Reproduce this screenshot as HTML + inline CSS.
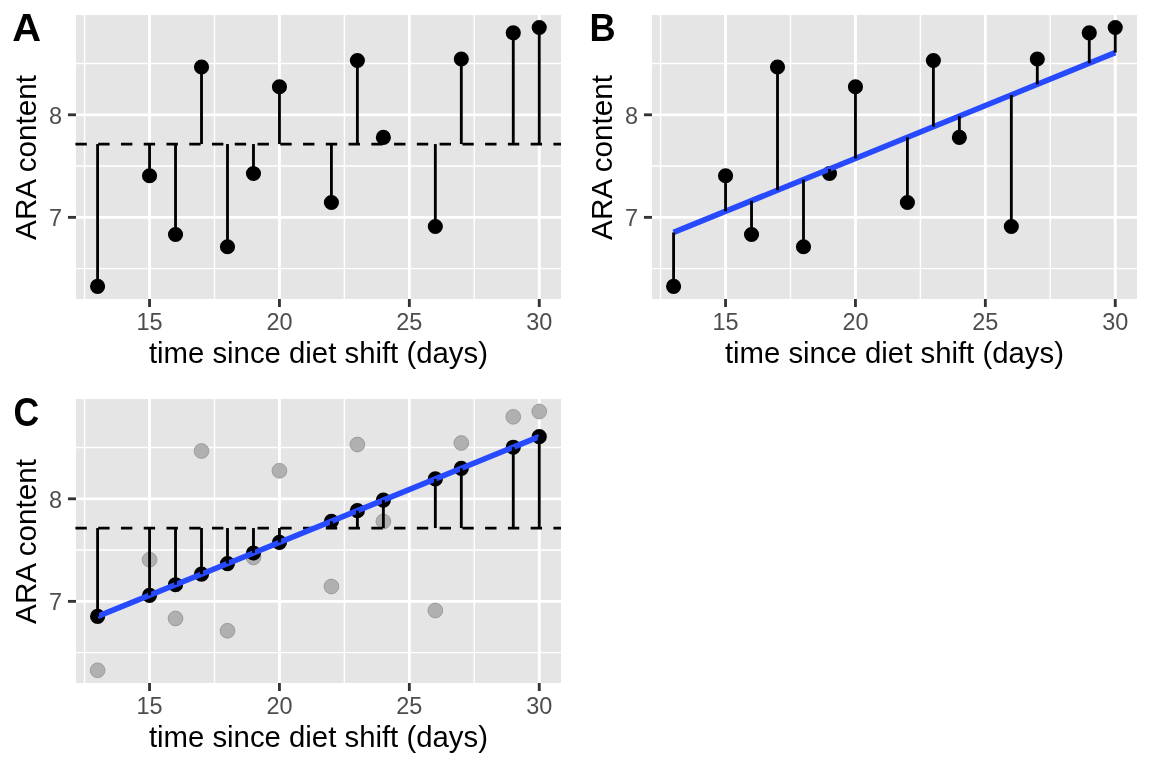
<!DOCTYPE html>
<html><head><meta charset="utf-8"><title>ARA content vs time since diet shift</title>
<style>
html,body{margin:0;padding:0;background:#fff;}
svg{display:block;will-change:transform;}
text{font-family:"Liberation Sans",sans-serif;}
.at{font-size:23.47px;fill:#4D4D4D;}
.ti{font-size:29.33px;fill:#000;}
.tag{font-size:37.33px;font-weight:bold;fill:#000;}
</style></head><body>
<svg width="1152" height="768" viewBox="0 0 1152 768">
<rect width="1152" height="768" fill="#fff"/>
<g transform="translate(0,0)">
<rect x="76" y="15" width="485" height="284" fill="#E5E5E5"/>
<line x1="76" x2="561" y1="268.62" y2="268.62" stroke="#fff" stroke-width="1.42"/>
<line x1="76" x2="561" y1="166.07" y2="166.07" stroke="#fff" stroke-width="1.42"/>
<line x1="76" x2="561" y1="63.52" y2="63.52" stroke="#fff" stroke-width="1.42"/>
<line y1="15" y2="299" x1="84.6" x2="84.6" stroke="#fff" stroke-width="1.42"/>
<line y1="15" y2="299" x1="214.5" x2="214.5" stroke="#fff" stroke-width="1.42"/>
<line y1="15" y2="299" x1="344.4" x2="344.4" stroke="#fff" stroke-width="1.42"/>
<line y1="15" y2="299" x1="474.3" x2="474.3" stroke="#fff" stroke-width="1.42"/>
<line x1="76" x2="561" y1="217.35" y2="217.35" stroke="#fff" stroke-width="2.845"/>
<line x1="76" x2="561" y1="114.8" y2="114.8" stroke="#fff" stroke-width="2.845"/>
<line y1="15" y2="299" x1="149.55" x2="149.55" stroke="#fff" stroke-width="2.845"/>
<line y1="15" y2="299" x1="279.45" x2="279.45" stroke="#fff" stroke-width="2.845"/>
<line y1="15" y2="299" x1="409.35" x2="409.35" stroke="#fff" stroke-width="2.845"/>
<line y1="15" y2="299" x1="539.25" x2="539.25" stroke="#fff" stroke-width="2.845"/>
<circle cx="97.59" cy="286.3" r="6.635" fill="#000" stroke="#000" stroke-width="1.89"/><circle cx="149.55" cy="175.75" r="6.635" fill="#000" stroke="#000" stroke-width="1.89"/><circle cx="175.53" cy="234.5" r="6.635" fill="#000" stroke="#000" stroke-width="1.89"/><circle cx="201.51" cy="67" r="6.635" fill="#000" stroke="#000" stroke-width="1.89"/><circle cx="227.49" cy="246.75" r="6.635" fill="#000" stroke="#000" stroke-width="1.89"/><circle cx="253.47" cy="173.5" r="6.635" fill="#000" stroke="#000" stroke-width="1.89"/><circle cx="279.45" cy="86.75" r="6.635" fill="#000" stroke="#000" stroke-width="1.89"/><circle cx="331.41" cy="202.5" r="6.635" fill="#000" stroke="#000" stroke-width="1.89"/><circle cx="357.39" cy="60.5" r="6.635" fill="#000" stroke="#000" stroke-width="1.89"/><circle cx="383.37" cy="137.45" r="6.635" fill="#000" stroke="#000" stroke-width="1.89"/><circle cx="435.33" cy="226.5" r="6.635" fill="#000" stroke="#000" stroke-width="1.89"/><circle cx="461.31" cy="59" r="6.635" fill="#000" stroke="#000" stroke-width="1.89"/><circle cx="513.27" cy="32.8" r="6.635" fill="#000" stroke="#000" stroke-width="1.89"/><circle cx="539.25" cy="27.5" r="6.635" fill="#000" stroke="#000" stroke-width="1.89"/>
<line x1="75.45" x2="561" y1="144.16" y2="144.16" stroke="#000" stroke-width="2.845" stroke-dasharray="11.38 11.38"/>
<line x1="97.59" x2="97.59" y1="286.3" y2="144.06" stroke="#000" stroke-width="2.845"/><line x1="149.55" x2="149.55" y1="175.75" y2="144.06" stroke="#000" stroke-width="2.845"/><line x1="175.53" x2="175.53" y1="234.5" y2="144.06" stroke="#000" stroke-width="2.845"/><line x1="201.51" x2="201.51" y1="67" y2="144.06" stroke="#000" stroke-width="2.845"/><line x1="227.49" x2="227.49" y1="246.75" y2="144.06" stroke="#000" stroke-width="2.845"/><line x1="253.47" x2="253.47" y1="173.5" y2="144.06" stroke="#000" stroke-width="2.845"/><line x1="279.45" x2="279.45" y1="86.75" y2="144.06" stroke="#000" stroke-width="2.845"/><line x1="331.41" x2="331.41" y1="202.5" y2="144.06" stroke="#000" stroke-width="2.845"/><line x1="357.39" x2="357.39" y1="60.5" y2="144.06" stroke="#000" stroke-width="2.845"/><line x1="383.37" x2="383.37" y1="137.45" y2="144.06" stroke="#000" stroke-width="2.845"/><line x1="435.33" x2="435.33" y1="226.5" y2="144.06" stroke="#000" stroke-width="2.845"/><line x1="461.31" x2="461.31" y1="59" y2="144.06" stroke="#000" stroke-width="2.845"/><line x1="513.27" x2="513.27" y1="32.8" y2="144.06" stroke="#000" stroke-width="2.845"/><line x1="539.25" x2="539.25" y1="27.5" y2="144.06" stroke="#000" stroke-width="2.845"/>
<line x1="67.95" x2="76" y1="217.35" y2="217.35" stroke="#333" stroke-width="2.845"/>
<text x="62.0" y="225.75" text-anchor="end" class="at">7</text>
<line x1="67.95" x2="76" y1="114.8" y2="114.8" stroke="#333" stroke-width="2.845"/>
<text x="62.0" y="124.25" text-anchor="end" class="at">8</text>
<line y1="299" y2="307" x1="149.55" x2="149.55" stroke="#333" stroke-width="2.845"/>
<text x="149.55" y="329.7" text-anchor="middle" class="at">15</text>
<line y1="299" y2="307" x1="279.45" x2="279.45" stroke="#333" stroke-width="2.845"/>
<text x="279.45" y="329.7" text-anchor="middle" class="at">20</text>
<line y1="299" y2="307" x1="409.35" x2="409.35" stroke="#333" stroke-width="2.845"/>
<text x="409.35" y="329.7" text-anchor="middle" class="at">25</text>
<line y1="299" y2="307" x1="539.25" x2="539.25" stroke="#333" stroke-width="2.845"/>
<text x="539.25" y="329.7" text-anchor="middle" class="at">30</text>
<text x="318.4" y="362.8" text-anchor="middle" class="ti">time since diet shift (days)</text>
<text transform="translate(35.5,157.5) rotate(-90) scale(1.011,1.03)" text-anchor="middle" class="ti">ARA content</text>
<text transform="translate(12.2,40.9) scale(1.07,1.04)" class="tag">A</text>
</g>
<g transform="translate(576,0)">
<rect x="76" y="15" width="485" height="284" fill="#E5E5E5"/>
<line x1="76" x2="561" y1="268.62" y2="268.62" stroke="#fff" stroke-width="1.42"/>
<line x1="76" x2="561" y1="166.07" y2="166.07" stroke="#fff" stroke-width="1.42"/>
<line x1="76" x2="561" y1="63.52" y2="63.52" stroke="#fff" stroke-width="1.42"/>
<line y1="15" y2="299" x1="84.6" x2="84.6" stroke="#fff" stroke-width="1.42"/>
<line y1="15" y2="299" x1="214.5" x2="214.5" stroke="#fff" stroke-width="1.42"/>
<line y1="15" y2="299" x1="344.4" x2="344.4" stroke="#fff" stroke-width="1.42"/>
<line y1="15" y2="299" x1="474.3" x2="474.3" stroke="#fff" stroke-width="1.42"/>
<line x1="76" x2="561" y1="217.35" y2="217.35" stroke="#fff" stroke-width="2.845"/>
<line x1="76" x2="561" y1="114.8" y2="114.8" stroke="#fff" stroke-width="2.845"/>
<line y1="15" y2="299" x1="149.55" x2="149.55" stroke="#fff" stroke-width="2.845"/>
<line y1="15" y2="299" x1="279.45" x2="279.45" stroke="#fff" stroke-width="2.845"/>
<line y1="15" y2="299" x1="409.35" x2="409.35" stroke="#fff" stroke-width="2.845"/>
<line y1="15" y2="299" x1="539.25" x2="539.25" stroke="#fff" stroke-width="2.845"/>
<circle cx="97.59" cy="286.3" r="6.635" fill="#000" stroke="#000" stroke-width="1.89"/><circle cx="149.55" cy="175.75" r="6.635" fill="#000" stroke="#000" stroke-width="1.89"/><circle cx="175.53" cy="234.5" r="6.635" fill="#000" stroke="#000" stroke-width="1.89"/><circle cx="201.51" cy="67" r="6.635" fill="#000" stroke="#000" stroke-width="1.89"/><circle cx="227.49" cy="246.75" r="6.635" fill="#000" stroke="#000" stroke-width="1.89"/><circle cx="253.47" cy="173.5" r="6.635" fill="#000" stroke="#000" stroke-width="1.89"/><circle cx="279.45" cy="86.75" r="6.635" fill="#000" stroke="#000" stroke-width="1.89"/><circle cx="331.41" cy="202.5" r="6.635" fill="#000" stroke="#000" stroke-width="1.89"/><circle cx="357.39" cy="60.5" r="6.635" fill="#000" stroke="#000" stroke-width="1.89"/><circle cx="383.37" cy="137.45" r="6.635" fill="#000" stroke="#000" stroke-width="1.89"/><circle cx="435.33" cy="226.5" r="6.635" fill="#000" stroke="#000" stroke-width="1.89"/><circle cx="461.31" cy="59" r="6.635" fill="#000" stroke="#000" stroke-width="1.89"/><circle cx="513.27" cy="32.8" r="6.635" fill="#000" stroke="#000" stroke-width="1.89"/><circle cx="539.25" cy="27.5" r="6.635" fill="#000" stroke="#000" stroke-width="1.89"/>
<line x1="97.59" y1="232.45" x2="539.25" y2="52.64" stroke="#274AFF" stroke-width="5.69"/>
<line x1="97.59" x2="97.59" y1="286.3" y2="232.45" stroke="#000" stroke-width="2.845"/><line x1="149.55" x2="149.55" y1="175.75" y2="211.3" stroke="#000" stroke-width="2.845"/><line x1="175.53" x2="175.53" y1="234.5" y2="200.72" stroke="#000" stroke-width="2.845"/><line x1="201.51" x2="201.51" y1="67" y2="190.14" stroke="#000" stroke-width="2.845"/><line x1="227.49" x2="227.49" y1="246.75" y2="179.57" stroke="#000" stroke-width="2.845"/><line x1="253.47" x2="253.47" y1="173.5" y2="168.99" stroke="#000" stroke-width="2.845"/><line x1="279.45" x2="279.45" y1="86.75" y2="158.41" stroke="#000" stroke-width="2.845"/><line x1="331.41" x2="331.41" y1="202.5" y2="137.26" stroke="#000" stroke-width="2.845"/><line x1="357.39" x2="357.39" y1="60.5" y2="126.68" stroke="#000" stroke-width="2.845"/><line x1="383.37" x2="383.37" y1="137.45" y2="116.1" stroke="#000" stroke-width="2.845"/><line x1="435.33" x2="435.33" y1="226.5" y2="94.95" stroke="#000" stroke-width="2.845"/><line x1="461.31" x2="461.31" y1="59" y2="84.37" stroke="#000" stroke-width="2.845"/><line x1="513.27" x2="513.27" y1="32.8" y2="63.22" stroke="#000" stroke-width="2.845"/><line x1="539.25" x2="539.25" y1="27.5" y2="52.64" stroke="#000" stroke-width="2.845"/>
<line x1="67.95" x2="76" y1="217.35" y2="217.35" stroke="#333" stroke-width="2.845"/>
<text x="62.0" y="225.75" text-anchor="end" class="at">7</text>
<line x1="67.95" x2="76" y1="114.8" y2="114.8" stroke="#333" stroke-width="2.845"/>
<text x="62.0" y="124.25" text-anchor="end" class="at">8</text>
<line y1="299" y2="307" x1="149.55" x2="149.55" stroke="#333" stroke-width="2.845"/>
<text x="149.55" y="329.7" text-anchor="middle" class="at">15</text>
<line y1="299" y2="307" x1="279.45" x2="279.45" stroke="#333" stroke-width="2.845"/>
<text x="279.45" y="329.7" text-anchor="middle" class="at">20</text>
<line y1="299" y2="307" x1="409.35" x2="409.35" stroke="#333" stroke-width="2.845"/>
<text x="409.35" y="329.7" text-anchor="middle" class="at">25</text>
<line y1="299" y2="307" x1="539.25" x2="539.25" stroke="#333" stroke-width="2.845"/>
<text x="539.25" y="329.7" text-anchor="middle" class="at">30</text>
<text x="318.4" y="362.8" text-anchor="middle" class="ti">time since diet shift (days)</text>
<text transform="translate(35.5,157.5) rotate(-90) scale(1.011,1.03)" text-anchor="middle" class="ti">ARA content</text>
<text transform="translate(13.4,40.9) scale(0.97,1.04)" class="tag">B</text>
</g>
<g transform="translate(0,384)">
<rect x="76" y="15" width="485" height="284" fill="#E5E5E5"/>
<line x1="76" x2="561" y1="268.62" y2="268.62" stroke="#fff" stroke-width="1.42"/>
<line x1="76" x2="561" y1="166.07" y2="166.07" stroke="#fff" stroke-width="1.42"/>
<line x1="76" x2="561" y1="63.52" y2="63.52" stroke="#fff" stroke-width="1.42"/>
<line y1="15" y2="299" x1="84.6" x2="84.6" stroke="#fff" stroke-width="1.42"/>
<line y1="15" y2="299" x1="214.5" x2="214.5" stroke="#fff" stroke-width="1.42"/>
<line y1="15" y2="299" x1="344.4" x2="344.4" stroke="#fff" stroke-width="1.42"/>
<line y1="15" y2="299" x1="474.3" x2="474.3" stroke="#fff" stroke-width="1.42"/>
<line x1="76" x2="561" y1="217.35" y2="217.35" stroke="#fff" stroke-width="2.845"/>
<line x1="76" x2="561" y1="114.8" y2="114.8" stroke="#fff" stroke-width="2.845"/>
<line y1="15" y2="299" x1="149.55" x2="149.55" stroke="#fff" stroke-width="2.845"/>
<line y1="15" y2="299" x1="279.45" x2="279.45" stroke="#fff" stroke-width="2.845"/>
<line y1="15" y2="299" x1="409.35" x2="409.35" stroke="#fff" stroke-width="2.845"/>
<line y1="15" y2="299" x1="539.25" x2="539.25" stroke="#fff" stroke-width="2.845"/>
<circle cx="97.59" cy="286.3" r="7.4" fill="#B0B0B0" stroke="#8C8C8C" stroke-width="0.7"/><circle cx="149.55" cy="175.75" r="7.4" fill="#B0B0B0" stroke="#8C8C8C" stroke-width="0.7"/><circle cx="175.53" cy="234.5" r="7.4" fill="#B0B0B0" stroke="#8C8C8C" stroke-width="0.7"/><circle cx="201.51" cy="67" r="7.4" fill="#B0B0B0" stroke="#8C8C8C" stroke-width="0.7"/><circle cx="227.49" cy="246.75" r="7.4" fill="#B0B0B0" stroke="#8C8C8C" stroke-width="0.7"/><circle cx="253.47" cy="173.5" r="7.4" fill="#B0B0B0" stroke="#8C8C8C" stroke-width="0.7"/><circle cx="279.45" cy="86.75" r="7.4" fill="#B0B0B0" stroke="#8C8C8C" stroke-width="0.7"/><circle cx="331.41" cy="202.5" r="7.4" fill="#B0B0B0" stroke="#8C8C8C" stroke-width="0.7"/><circle cx="357.39" cy="60.5" r="7.4" fill="#B0B0B0" stroke="#8C8C8C" stroke-width="0.7"/><circle cx="383.37" cy="137.45" r="7.4" fill="#B0B0B0" stroke="#8C8C8C" stroke-width="0.7"/><circle cx="435.33" cy="226.5" r="7.4" fill="#B0B0B0" stroke="#8C8C8C" stroke-width="0.7"/><circle cx="461.31" cy="59" r="7.4" fill="#B0B0B0" stroke="#8C8C8C" stroke-width="0.7"/><circle cx="513.27" cy="32.8" r="7.4" fill="#B0B0B0" stroke="#8C8C8C" stroke-width="0.7"/><circle cx="539.25" cy="27.5" r="7.4" fill="#B0B0B0" stroke="#8C8C8C" stroke-width="0.7"/>
<line x1="75.45" x2="561" y1="144.16" y2="144.16" stroke="#000" stroke-width="2.845" stroke-dasharray="11.38 11.38"/>
<circle cx="97.59" cy="232.45" r="6.635" fill="#000" stroke="#000" stroke-width="1.89"/><circle cx="149.55" cy="211.3" r="6.635" fill="#000" stroke="#000" stroke-width="1.89"/><circle cx="175.53" cy="200.72" r="6.635" fill="#000" stroke="#000" stroke-width="1.89"/><circle cx="201.51" cy="190.14" r="6.635" fill="#000" stroke="#000" stroke-width="1.89"/><circle cx="227.49" cy="179.57" r="6.635" fill="#000" stroke="#000" stroke-width="1.89"/><circle cx="253.47" cy="168.99" r="6.635" fill="#000" stroke="#000" stroke-width="1.89"/><circle cx="279.45" cy="158.41" r="6.635" fill="#000" stroke="#000" stroke-width="1.89"/><circle cx="331.41" cy="137.26" r="6.635" fill="#000" stroke="#000" stroke-width="1.89"/><circle cx="357.39" cy="126.68" r="6.635" fill="#000" stroke="#000" stroke-width="1.89"/><circle cx="383.37" cy="116.1" r="6.635" fill="#000" stroke="#000" stroke-width="1.89"/><circle cx="435.33" cy="94.95" r="6.635" fill="#000" stroke="#000" stroke-width="1.89"/><circle cx="461.31" cy="84.37" r="6.635" fill="#000" stroke="#000" stroke-width="1.89"/><circle cx="513.27" cy="63.22" r="6.635" fill="#000" stroke="#000" stroke-width="1.89"/><circle cx="539.25" cy="52.64" r="6.635" fill="#000" stroke="#000" stroke-width="1.89"/>
<line x1="97.59" y1="232.45" x2="539.25" y2="52.64" stroke="#274AFF" stroke-width="5.69"/>
<line x1="97.59" x2="97.59" y1="232.45" y2="144.06" stroke="#000" stroke-width="2.845"/><line x1="149.55" x2="149.55" y1="211.3" y2="144.06" stroke="#000" stroke-width="2.845"/><line x1="175.53" x2="175.53" y1="200.72" y2="144.06" stroke="#000" stroke-width="2.845"/><line x1="201.51" x2="201.51" y1="190.14" y2="144.06" stroke="#000" stroke-width="2.845"/><line x1="227.49" x2="227.49" y1="179.57" y2="144.06" stroke="#000" stroke-width="2.845"/><line x1="253.47" x2="253.47" y1="168.99" y2="144.06" stroke="#000" stroke-width="2.845"/><line x1="279.45" x2="279.45" y1="158.41" y2="144.06" stroke="#000" stroke-width="2.845"/><line x1="331.41" x2="331.41" y1="137.26" y2="144.06" stroke="#000" stroke-width="2.845"/><line x1="357.39" x2="357.39" y1="126.68" y2="144.06" stroke="#000" stroke-width="2.845"/><line x1="383.37" x2="383.37" y1="116.1" y2="144.06" stroke="#000" stroke-width="2.845"/><line x1="435.33" x2="435.33" y1="94.95" y2="144.06" stroke="#000" stroke-width="2.845"/><line x1="461.31" x2="461.31" y1="84.37" y2="144.06" stroke="#000" stroke-width="2.845"/><line x1="513.27" x2="513.27" y1="63.22" y2="144.06" stroke="#000" stroke-width="2.845"/><line x1="539.25" x2="539.25" y1="52.64" y2="144.06" stroke="#000" stroke-width="2.845"/>
<line x1="67.95" x2="76" y1="217.35" y2="217.35" stroke="#333" stroke-width="2.845"/>
<text x="62.0" y="225.75" text-anchor="end" class="at">7</text>
<line x1="67.95" x2="76" y1="114.8" y2="114.8" stroke="#333" stroke-width="2.845"/>
<text x="62.0" y="124.25" text-anchor="end" class="at">8</text>
<line y1="299" y2="307" x1="149.55" x2="149.55" stroke="#333" stroke-width="2.845"/>
<text x="149.55" y="329.7" text-anchor="middle" class="at">15</text>
<line y1="299" y2="307" x1="279.45" x2="279.45" stroke="#333" stroke-width="2.845"/>
<text x="279.45" y="329.7" text-anchor="middle" class="at">20</text>
<line y1="299" y2="307" x1="409.35" x2="409.35" stroke="#333" stroke-width="2.845"/>
<text x="409.35" y="329.7" text-anchor="middle" class="at">25</text>
<line y1="299" y2="307" x1="539.25" x2="539.25" stroke="#333" stroke-width="2.845"/>
<text x="539.25" y="329.7" text-anchor="middle" class="at">30</text>
<text x="318.4" y="362.8" text-anchor="middle" class="ti">time since diet shift (days)</text>
<text transform="translate(35.5,157.5) rotate(-90) scale(1.011,1.03)" text-anchor="middle" class="ti">ARA content</text>
<text transform="translate(13.4,41.65) scale(0.955,1.07)" class="tag">C</text>
</g>
</svg>
</body></html>
